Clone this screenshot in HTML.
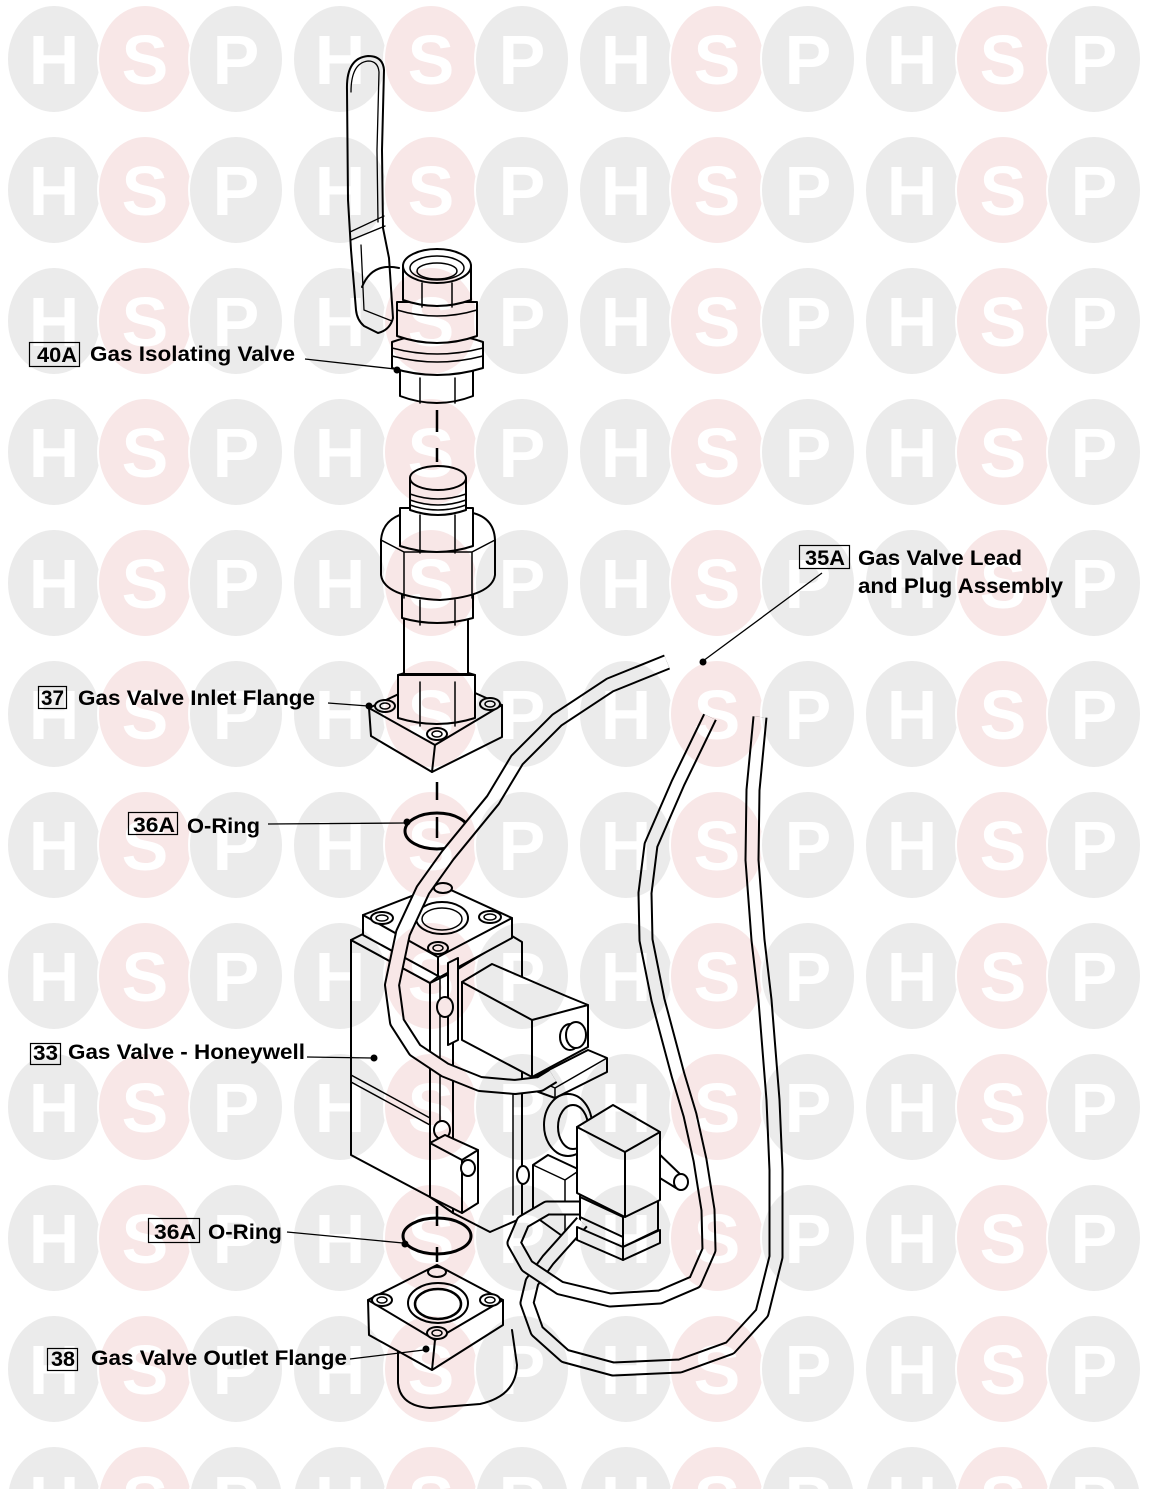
<!DOCTYPE html>
<html><head><meta charset="utf-8">
<style>
html,body{margin:0;padding:0;background:#fff;}
svg{display:block;}
text{font-family:"Liberation Sans",Arial,sans-serif;font-weight:bold;}
</style></head><body>
<svg width="1152" height="1489" viewBox="0 0 1152 1489" xmlns="http://www.w3.org/2000/svg">
<defs>
<pattern id="wm" patternUnits="userSpaceOnUse" x="0" y="0" width="286" height="131">
<ellipse cx="54" cy="59" rx="47" ry="54" fill="#ebebeb" stroke="#fff" stroke-width="2"/>
<ellipse cx="145" cy="59" rx="47" ry="54" fill="#f8e7e7" stroke="#fff" stroke-width="2"/>
<ellipse cx="236" cy="59" rx="47" ry="54" fill="#ebebeb" stroke="#fff" stroke-width="2"/>
</pattern>
</defs>
<rect width="1152" height="1489" fill="#fff"/>

<g fill="#fff" stroke="#000" stroke-width="2" stroke-linejoin="round" stroke-linecap="round">
<!-- ===== Gas isolating valve (top) ===== -->
<path d="M347,90 Q346,58 368,56 Q383,56 384,70 L382,150 L383,228 L389,258 L393,318 Q390,330 378,333 L364,326 Q357,320 356,310 L351,250 L348,200 Z"/>
<path d="M351,92 Q351,63 368,61 Q378,61 379,72 L377,150 L378,222" fill="none" stroke-width="1.3"/>
<path d="M350,232 L384,216 M351,240 L385,226" fill="none" stroke-width="1.3"/>
<path d="M361,245 L364,310 L392,321" fill="none" stroke-width="1.3"/>
<path d="M362,287 Q372,262 399,268" fill="none"/>

<path d="M400,370 L400,396 Q437,410 473,396 L473,370 Z"/>
<path d="M420,378 L420,403 M455,378 L455,403" fill="none" stroke-width="1.5"/>
<path d="M392,342 Q437,326 483,342 L483,368 Q437,382 392,368 Z"/>
<path d="M392,348 Q437,360 483,348 M392,356 Q437,368 483,356" fill="none" stroke-width="1.5"/>
<path d="M397,302 L397,336 Q437,350 477,336 L477,302 Z"/>
<path d="M397,310 Q437,322 477,310" fill="none" stroke-width="1.5"/>
<path d="M403,266 L403,300 Q437,312 471,300 L471,266 Z"/>
<ellipse cx="437" cy="266" rx="34" ry="17"/>
<ellipse cx="437" cy="268" rx="27" ry="12" fill="none" stroke-width="1.5"/>
<ellipse cx="437" cy="271" rx="20" ry="8" fill="none" stroke-width="1.5"/>
<path d="M422,283 L422,307 M452,283 L452,307" fill="none" stroke-width="1.5"/>

<!-- centre dashes -->
<path d="M437,410 L437,432 M437,448 L437,462 M437,782 L437,800 M437,817 L437,838 M437,1206 L437,1226 M437,1247 L437,1262" fill="none" stroke-width="2.5" stroke-linecap="butt"/>

<!-- ===== Inlet flange ===== -->
<path d="M369,708 L437,676 L502,705 L502,737 L432,772 L371,736 Z"/>
<path d="M369,708 L435,745 L502,705 M435,745 L432,772" fill="none"/>
<ellipse cx="385" cy="706" rx="10" ry="6"/><ellipse cx="385" cy="706" rx="5" ry="3" fill="none" stroke-width="1.5"/>
<ellipse cx="490" cy="704" rx="10" ry="6"/><ellipse cx="490" cy="704" rx="5" ry="3" fill="none" stroke-width="1.5"/>
<ellipse cx="437" cy="734" rx="10" ry="6"/><ellipse cx="437" cy="734" rx="5" ry="3" fill="none" stroke-width="1.5"/>
<path d="M398,675 L398,718 Q437,730 475,718 L475,675 Z"/>
<path d="M398,675 Q437,662 475,675" fill="none"/>
<path d="M420,682 L420,726 M455,682 L455,726" fill="none" stroke-width="1.5"/>
<path d="M404,612 L404,674 L468,674 L468,612 Z"/>
<path d="M402,595 L402,618 Q437,628 473,618 L473,595 Z"/>
<path d="M420,600 L420,625 M455,600 L455,625" fill="none" stroke-width="1.5"/>
<path d="M381,540 Q383,516 412,512 L468,512 Q494,516 495,540 L495,575 Q492,596 440,600 Q384,597 381,575 Z"/>
<path d="M381,540 L404,552 L472,552 L495,540 M404,552 L404,598 M472,552 L472,598" fill="none" stroke-width="1.5"/>
<path d="M400,508 L400,546 Q437,558 473,546 L473,508 Z"/>
<path d="M420,515 L420,553 M455,515 L455,553" fill="none" stroke-width="1.5"/>
<path d="M410,478 L410,510 Q438,520 466,510 L466,478 Z"/>
<path d="M410,494 Q438,504 466,494 M410,500 Q438,510 466,500 M410,505 Q438,515 466,505" fill="none" stroke-width="1.5"/>
<ellipse cx="438" cy="478" rx="28" ry="12"/>

<!-- O-ring top -->
<ellipse cx="437" cy="831" rx="32" ry="18" fill="none" stroke-width="3"/>

<!-- ===== Gas valve body ===== -->
<path d="M453,972 L512,936 L522,942 L522,1218 L490,1232 L453,1213 Z"/>
<path d="M513,1080 L513,1215" fill="none" stroke-width="1.5"/>
<path d="M533,1165 L548,1155 L580,1170 L580,1230 L565,1238 L533,1215 Z"/>
<path d="M533,1165 L565,1180 L580,1170 M565,1180 L565,1238" fill="none" stroke-width="1.5"/>
<ellipse cx="523" cy="1175" rx="6" ry="9"/>
<path d="M533,1078 L588,1050 L607,1058 L607,1072 L555,1098 L533,1090 Z"/>
<path d="M533,1078 L555,1088 L607,1058 M555,1088 L555,1098" fill="none" stroke-width="1.5"/>
<ellipse cx="568" cy="1125" rx="24" ry="31"/>
<ellipse cx="573" cy="1127" rx="15" ry="22"/>
<path d="M351,940 L430,983 L430,1197 L351,1155 Z"/>
<path d="M351,1075 L430,1118 M351,1082 L430,1125" fill="none" stroke-width="1.5"/>
<path d="M430,983 L453,972 L453,1213 L430,1197 Z"/>
<path d="M440,978 L440,1135" fill="none" stroke-width="1.5"/>
<path d="M351,940 L363,934 L440,975 L430,983 Z"/>
<path d="M363,915 L440,885 L512,918 L512,938 L440,977 L363,935 Z"/>
<path d="M363,915 L438,957 L512,918 M438,957 L438,977" fill="none"/>
<ellipse cx="442" cy="918" rx="26" ry="16"/>
<ellipse cx="442" cy="919" rx="20" ry="11" fill="none" stroke-width="1.5"/>
<ellipse cx="382" cy="918" rx="11" ry="6"/><ellipse cx="382" cy="918" rx="6" ry="3" fill="none" stroke-width="1.5"/>
<ellipse cx="490" cy="917" rx="11" ry="6"/><ellipse cx="490" cy="917" rx="6" ry="3" fill="none" stroke-width="1.5"/>
<ellipse cx="438" cy="948" rx="10" ry="6"/><ellipse cx="438" cy="948" rx="5" ry="3" fill="none" stroke-width="1.5"/>
<ellipse cx="443" cy="888" rx="9" ry="5"/>
<path d="M448,963 L458,958 L458,1040 L448,1045 Z"/>
<ellipse cx="445" cy="1007" rx="8" ry="10"/>
<path d="M462,982 L492,964 L566,996 L588,1005 L588,1047 L532,1077 L462,1040 Z"/>
<path d="M462,982 L532,1020 L588,1005 M532,1020 L532,1077" fill="none"/>
<ellipse cx="570" cy="1037" rx="10" ry="13"/>
<ellipse cx="576" cy="1035" rx="10" ry="13"/>
<ellipse cx="442" cy="1130" rx="8" ry="9"/>
<path d="M430,1143 L445,1135 L478,1150 L478,1203 L462,1213 L430,1197 Z"/>
<path d="M430,1143 L462,1160 L478,1150 M462,1160 L462,1213" fill="none"/>
<ellipse cx="468" cy="1168" rx="7" ry="8"/>

<!-- O-ring lower -->
<ellipse cx="437" cy="1236" rx="34" ry="18" fill="none" stroke-width="3"/>

<!-- ===== Outlet flange ===== -->
<path d="M398,1345 L398,1383 Q400,1406 430,1408 L480,1404 Q516,1396 517,1365 L512,1330"/>
<path d="M368,1300 L437,1265 L503,1300 L503,1325 L432,1370 L369,1335 Z"/>
<path d="M368,1300 L435,1340 L503,1300 M435,1340 L432,1370" fill="none"/>
<ellipse cx="438" cy="1303" rx="30" ry="20"/>
<ellipse cx="438" cy="1304" rx="23" ry="15" fill="none" stroke-width="2.5"/>
<ellipse cx="382" cy="1300" rx="10" ry="6"/><ellipse cx="382" cy="1300" rx="5" ry="3" fill="none" stroke-width="1.5"/>
<ellipse cx="490" cy="1300" rx="10" ry="6"/><ellipse cx="490" cy="1300" rx="5" ry="3" fill="none" stroke-width="1.5"/>
<ellipse cx="437" cy="1333" rx="10" ry="6"/><ellipse cx="437" cy="1333" rx="5" ry="3" fill="none" stroke-width="1.5"/>
<ellipse cx="437" cy="1272" rx="9" ry="5"/>

<!-- ===== Tubes ===== -->
<g fill="none" stroke-linecap="butt">
<path id="tb" d="M760,717 L753,790 L752,860 L758,940 L765,1000 L773,1100 L776,1170 L776,1257 L762,1313 L730,1348 L680,1366 L613,1369 L565,1356 L537,1331 L527,1303 L532,1282 L548,1260 L582,1222" stroke="#000" stroke-width="15"/>
<path d="M760,717 L753,790 L752,860 L758,940 L765,1000 L773,1100 L776,1170 L776,1257 L762,1313 L730,1348 L680,1366 L613,1369 L565,1356 L537,1331 L527,1303 L532,1282 L548,1260 L582,1222" stroke="#fff" stroke-width="11"/>
<path d="M710,717 L678,783 L651,845 L645,893 L646,940 L658,1000 L678,1075 L690,1115 L700,1160 L708,1210 L709,1250 L695,1282 L660,1297 L610,1300 L560,1288 L527,1266 L514,1243 L523,1222 L547,1208 L582,1208" stroke="#000" stroke-width="15"/>
<path d="M710,717 L678,783 L651,845 L645,893 L646,940 L658,1000 L678,1075 L690,1115 L700,1160 L708,1210 L709,1250 L695,1282 L660,1297 L610,1300 L560,1288 L527,1266 L514,1243 L523,1222 L547,1208 L582,1208" stroke="#fff" stroke-width="11"/>
<path d="M667,662 L610,685 L557,720 L517,760 L493,800 L448,855 L423,890 L403,933 L392,985 L397,1022 L415,1050 L445,1070 L480,1084 L515,1087 L540,1084 L553,1076" stroke="#000" stroke-width="16"/>
<path d="M667,662 L610,685 L557,720 L517,760 L493,800 L448,855 L423,890 L403,933 L392,985 L397,1022 L415,1050 L445,1070 L480,1084 L515,1087 L540,1084 L553,1076" stroke="#fff" stroke-width="12"/>
</g>

<!-- ===== Connector ===== -->
<path d="M580,1197 L623,1217 L623,1237 L580,1217 Z"/>
<path d="M623,1217 L658,1200 L658,1230 L623,1247 Z"/>
<path d="M577,1227 L623,1247 L623,1260 L577,1240 Z"/>
<path d="M623,1247 L660,1230 L660,1243 L623,1260 Z"/>
<path d="M655,1150 L682,1176 L676,1188 L655,1175 Z"/>
<ellipse cx="681" cy="1182" rx="7" ry="8"/>
<path d="M577,1127 L613,1105 L660,1132 L660,1200 L625,1217 L577,1193 Z"/>
<path d="M577,1127 L625,1152 L660,1132 M625,1152 L625,1217" fill="none"/>
</g>

<!-- ===== Leaders ===== -->
<g stroke="#000" stroke-width="1.3" fill="none">
<path d="M305,359 L395,369"/>
<path d="M328,703 L368,706"/>
<path d="M268,824 L405,823"/>
<path d="M307,1057 L372,1058"/>
<path d="M287,1232 L403,1243"/>
<path d="M350,1359 L424,1350"/>
<path d="M822,573 L703,661"/>
</g>
<g fill="#000">
<circle cx="397" cy="370" r="3.5"/>
<circle cx="369" cy="706" r="3.5"/>
<circle cx="407" cy="822" r="3.5"/>
<circle cx="374" cy="1058" r="3.5"/>
<circle cx="405" cy="1244" r="3.5"/>
<circle cx="426" cy="1349" r="3.5"/>
<circle cx="703" cy="662" r="3.5"/>
</g>

<!-- ===== Labels ===== -->
<g fill="none" stroke="#000" stroke-width="1.2">
<rect x="29.5" y="342.5" width="50" height="24"/>
<rect x="38.5" y="686.5" width="28" height="22"/>
<rect x="128.5" y="812.5" width="49" height="22"/>
<rect x="30.5" y="1043.5" width="30" height="21"/>
<rect x="148.5" y="1218.5" width="51" height="24"/>
<rect x="47.5" y="1348.5" width="30" height="22"/>
<rect x="799.5" y="545.5" width="50" height="23"/>
</g>
<g fill="#000" font-size="21">
<text x="37" y="362" textLength="40" lengthAdjust="spacingAndGlyphs">40A</text>
<text x="90" y="361" textLength="205" lengthAdjust="spacingAndGlyphs">Gas Isolating Valve</text>
<text x="41" y="705" textLength="23" lengthAdjust="spacingAndGlyphs">37</text>
<text x="78" y="705" textLength="237" lengthAdjust="spacingAndGlyphs">Gas Valve Inlet Flange</text>
<text x="133" y="832" textLength="42" lengthAdjust="spacingAndGlyphs">36A</text>
<text x="187" y="833" textLength="73" lengthAdjust="spacingAndGlyphs">O-Ring</text>
<text x="33" y="1060" textLength="25" lengthAdjust="spacingAndGlyphs">33</text>
<text x="68" y="1059" textLength="237" lengthAdjust="spacingAndGlyphs">Gas Valve - Honeywell</text>
<text x="154" y="1239" textLength="42" lengthAdjust="spacingAndGlyphs">36A</text>
<text x="208" y="1239" textLength="74" lengthAdjust="spacingAndGlyphs">O-Ring</text>
<text x="51" y="1366" textLength="24" lengthAdjust="spacingAndGlyphs">38</text>
<text x="91" y="1365" textLength="256" lengthAdjust="spacingAndGlyphs">Gas Valve Outlet Flange</text>
<text x="805" y="565" textLength="40" lengthAdjust="spacingAndGlyphs">35A</text>
<text x="858" y="565" textLength="164" lengthAdjust="spacingAndGlyphs">Gas Valve Lead</text>
<text x="858" y="593" textLength="205" lengthAdjust="spacingAndGlyphs">and Plug Assembly</text>
</g>

<!-- ===== Watermark (multiply) ===== -->
<g style="mix-blend-mode:multiply">
<rect width="1152" height="1489" fill="url(#wm)"/>
<g fill="#fff" font-size="70" text-anchor="middle">
<text x="54 145 236 340 431 522 626 717 808 912 1003 1094" y="84">HSPHSPHSPHSP</text>
<text x="54 145 236 340 431 522 626 717 808 912 1003 1094" y="215">HSPHSPHSPHSP</text>
<text x="54 145 236 340 431 522 626 717 808 912 1003 1094" y="346">HSPHSPHSPHSP</text>
<text x="54 145 236 340 431 522 626 717 808 912 1003 1094" y="477">HSPHSPHSPHSP</text>
<text x="54 145 236 340 431 522 626 717 808 912 1003 1094" y="608">HSPHSPHSPHSP</text>
<text x="54 145 236 340 431 522 626 717 808 912 1003 1094" y="739">HSPHSPHSPHSP</text>
<text x="54 145 236 340 431 522 626 717 808 912 1003 1094" y="870">HSPHSPHSPHSP</text>
<text x="54 145 236 340 431 522 626 717 808 912 1003 1094" y="1001">HSPHSPHSPHSP</text>
<text x="54 145 236 340 431 522 626 717 808 912 1003 1094" y="1132">HSPHSPHSPHSP</text>
<text x="54 145 236 340 431 522 626 717 808 912 1003 1094" y="1263">HSPHSPHSPHSP</text>
<text x="54 145 236 340 431 522 626 717 808 912 1003 1094" y="1394">HSPHSPHSPHSP</text>
<text x="54 145 236 340 431 522 626 717 808 912 1003 1094" y="1525">HSPHSPHSPHSP</text>
</g>
</g>
</svg>
</body></html>
